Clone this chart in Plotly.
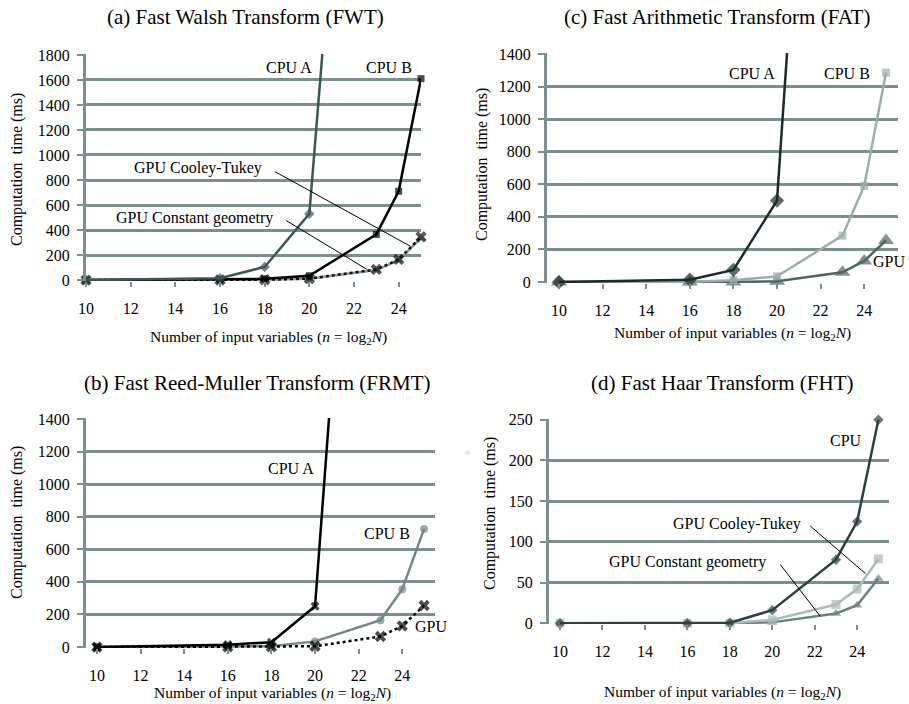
import plotly.graph_objects as go

# ---------------- data ----------------
n_vars = [10, 16, 18, 20, 23, 24, 25]

# (a) Fast Walsh Transform
fwt_cpu_a = [0, 15, 105, 530, 7100, 14500, 29000]
fwt_cpu_b = [0, 3, 10, 35, 365, 710, 1610]
fwt_gpu_ct = [0, 1, 3, 10, 80, 160, 335]
fwt_gpu_cg = [0, 1, 3, 12, 85, 165, 345]

# (c) Fast Arithmetic Transform
fat_cpu_a = [0, 15, 75, 500, 6400, 13000, 26000]
fat_cpu_b = [0, 2, 12, 35, 285, 590, 1285]
fat_gpu = [0, 0, 0, 5, 60, 130, 255]

# (b) Fast Reed-Muller Transform
frmt_cpu_a = [0, 15, 30, 250, 5650, 11500, 23000]
frmt_cpu_b = [0, 2, 5, 35, 165, 355, 725]
frmt_gpu = [0, 1, 2, 5, 65, 130, 255]

# (d) Fast Haar Transform
fht_cpu = [0, 0, 0.5, 16, 78, 125, 250]
fht_gpu_ct = [0, 0, 0, 4, 23, 42, 79]
fht_gpu_cg = [0, 0, 0, 1, 12, 22, 55]

x_ticks = [10, 12, 14, 16, 18, 20, 22, 24]

FONT = "Liberation Serif, Times New Roman, Times, serif"
GRID = "#7b8f8f"
W, H = 909, 704

fig = go.Figure()


def msize(vals, ymax, s):
    return [s if v <= ymax else 0 for v in vals]


def add(vals, xa, ya, color, symbol, size, ymax, dash="solid", width=2.5):
    fig.add_trace(go.Scatter(
        x=n_vars, y=vals, xaxis=xa, yaxis=ya, mode="lines+markers",
        line=dict(color=color, width=width, dash=dash),
        marker=dict(color=color, symbol=symbol, size=msize(vals, ymax, size),
                    line=dict(width=0)),
        cliponaxis=False, showlegend=False, hoverinfo="x+y"))


# (a)
add(fwt_gpu_ct, "x", "y", "#8a9d9c", "triangle-up", 9, 1800)
add(fwt_gpu_cg, "x", "y", "#111111", "x", 10, 1800, dash="dot")
add(fwt_cpu_b, "x", "y", "#000000", "square", 7, 1800)
add(fwt_cpu_a, "x", "y", "#3c5656", "diamond", 8, 1800)
# (c)
add(fat_gpu, "x2", "y2", "#4d6565", "triangle-up", 14, 1400)
add(fat_cpu_b, "x2", "y2", "#9aacab", "square", 8, 1400)
add(fat_cpu_a, "x2", "y2", "#1c2b2b", "diamond", 11, 1400)
# (b)
add(frmt_cpu_b, "x3", "y3", "#718787", "circle", 8, 1400)
add(frmt_gpu, "x3", "y3", "#000000", "x", 10, 1400, dash="dot")
add(frmt_cpu_a, "x3", "y3", "#000000", "x", 8, 1400)
# (d)
add(fht_gpu_cg, "x4", "y4", "#6b8181", "triangle-up", 9, 250)
add(fht_gpu_ct, "x4", "y4", "#aabbba", "square", 9, 250)
add(fht_cpu, "x4", "y4", "#2b4040", "diamond", 8, 250)


def xax(domain, rng, anchor):
    return dict(domain=domain, range=rng, anchor=anchor, tickmode="array",
                tickvals=x_ticks, showgrid=False, zeroline=False, showline=False,
                ticks="outside", ticklen=5, tickwidth=2, tickcolor=GRID,
                ticklabelstandoff=8, automargin=False,
                tickfont=dict(family=FONT, size=16, color="black"))


def yax(domain, ymax, dtick, anchor):
    eps = ymax * 0.004
    return dict(domain=domain, range=[-eps, ymax + eps], anchor=anchor,
                dtick=dtick, tick0=0, showgrid=True, gridcolor=GRID, gridwidth=3,
                zeroline=False, showline=True, linecolor=GRID, linewidth=3,
                ticks="outside", ticklen=6, tickwidth=2, tickcolor=GRID,
                ticklabelstandoff=4, automargin=False,
                tickfont=dict(family=FONT, size=16, color="black"))


def px(a, b):
    return [a / W, b / W]


def py(top, bottom):
    return [1 - bottom / H, 1 - top / H]


layout = dict(
    width=W, height=H, autosize=False,
    margin=dict(l=0, r=0, t=0, b=0, pad=0, autoexpand=False),
    paper_bgcolor="white", plot_bgcolor="white",
    font=dict(family=FONT, size=16, color="black"),
    xaxis=xax(px(86, 421), [10, 25], "y"),
    yaxis=yax(py(54, 281), 1800, 200, "x"),
    xaxis2=xax(px(547, 898), [9.45, 25.55], "y2"),
    yaxis2=yax(py(53, 283), 1400, 200, "x2"),
    xaxis3=xax(px(86, 435), [9.5, 25.5], "y3"),
    yaxis3=yax(py(418, 648), 1400, 200, "x3"),
    xaxis4=xax(px(549, 889), [9.48, 25.5], "y4"),
    yaxis4=yax(py(419, 624), 250, 50, "x4"),
)
fig.update_layout(**layout)

ann = []


def paper_text(text, x, y, size, angle=0, xanchor="center", color="black"):
    ann.append(dict(text=text, x=x / W, y=1 - y / H, xref="paper", yref="paper",
                    xanchor=xanchor, yanchor="middle", showarrow=False,
                    textangle=angle, font=dict(family=FONT, size=size, color=color)))


def data_text(text, x, y, xa, ya, size=16):
    ann.append(dict(text=text, x=x, y=y, xref=xa, yref=ya, xanchor="center",
                    yanchor="middle", showarrow=False,
                    font=dict(family=FONT, size=size, color="black")))


xtitle = "Number of input variables (<i>n</i> = log<sub>2</sub><i>N</i>)"
ytitle = "Computation  time (ms)"

paper_text("(a) Fast Walsh Transform (FWT)", 245, 17, 21)
paper_text("(c) Fast Arithmetic Transform (FAT)", 717, 17, 21)
paper_text("(b) Fast Reed-Muller Transform (FRMT)", 257, 383, 21)
paper_text("(d) Fast Haar Transform (FHT)", 722, 383, 21)

paper_text(xtitle, 268, 337, 15.5)
paper_text(xtitle, 732, 333, 15.5)
paper_text(xtitle, 272, 693, 15.5)
paper_text(xtitle, 722, 692, 15.5)

paper_text(ytitle, 17, 170, 16, -90)
paper_text(ytitle, 482, 165, 16, -90)
paper_text(ytitle, 17, 523, 16, -90)
paper_text(ytitle, 490, 514, 16, -90)

# faint stray mark seen in the original figure
paper_text("*", 467, 455, 14, color="#d3dada")

# series labels
data_text("CPU A", 19.09, 1697, "x", "y")
data_text("CPU B", 23.57, 1697, "x", "y")
data_text("GPU Cooley-Tukey", 15.02, 896, "x", "y")
data_text("GPU Constant geometry", 14.88, 500, "x", "y")

data_text("CPU A", 18.85, 1278, "x2", "y2")
data_text("CPU B", 23.21, 1278, "x2", "y2")
paper_text("GPU", 907, 262, 16, xanchor="right")

data_text("CPU A", 18.9, 1096, "x3", "y3")
data_text("CPU B", 23.3, 700, "x3", "y3")
data_text("GPU", 25.3, 128, "x3", "y3")

data_text("CPU", 23.49, 224, "x4", "y4")
data_text("GPU Cooley-Tukey", 18.35, 122, "x4", "y4")
data_text("GPU Constant geometry", 16.0, 75.6, "x4", "y4")

fig.update_layout(annotations=ann)

# leader lines
leaders = [
    ("x", "y", 18.46, 867, 24.51, 272),
    ("x", "y", 18.96, 476, 22.57, 87),
    ("x4", "y4", 21.79, 119.5, 24.39, 61),
    ("x4", "y4", 20.38, 72, 22.26, 8.5),
]
for xa, ya, x0, y0, x1, y1 in leaders:
    fig.add_shape(type="line", xref=xa, yref=ya, x0=x0, y0=y0, x1=x1, y1=y1,
                  line=dict(color="black", width=1))

fig.write_html(
    "out.html",
    config={"responsive": False, "displayModeBar": False},
    post_script="document.body.style.margin='0';document.body.style.overflow='hidden';",
)
